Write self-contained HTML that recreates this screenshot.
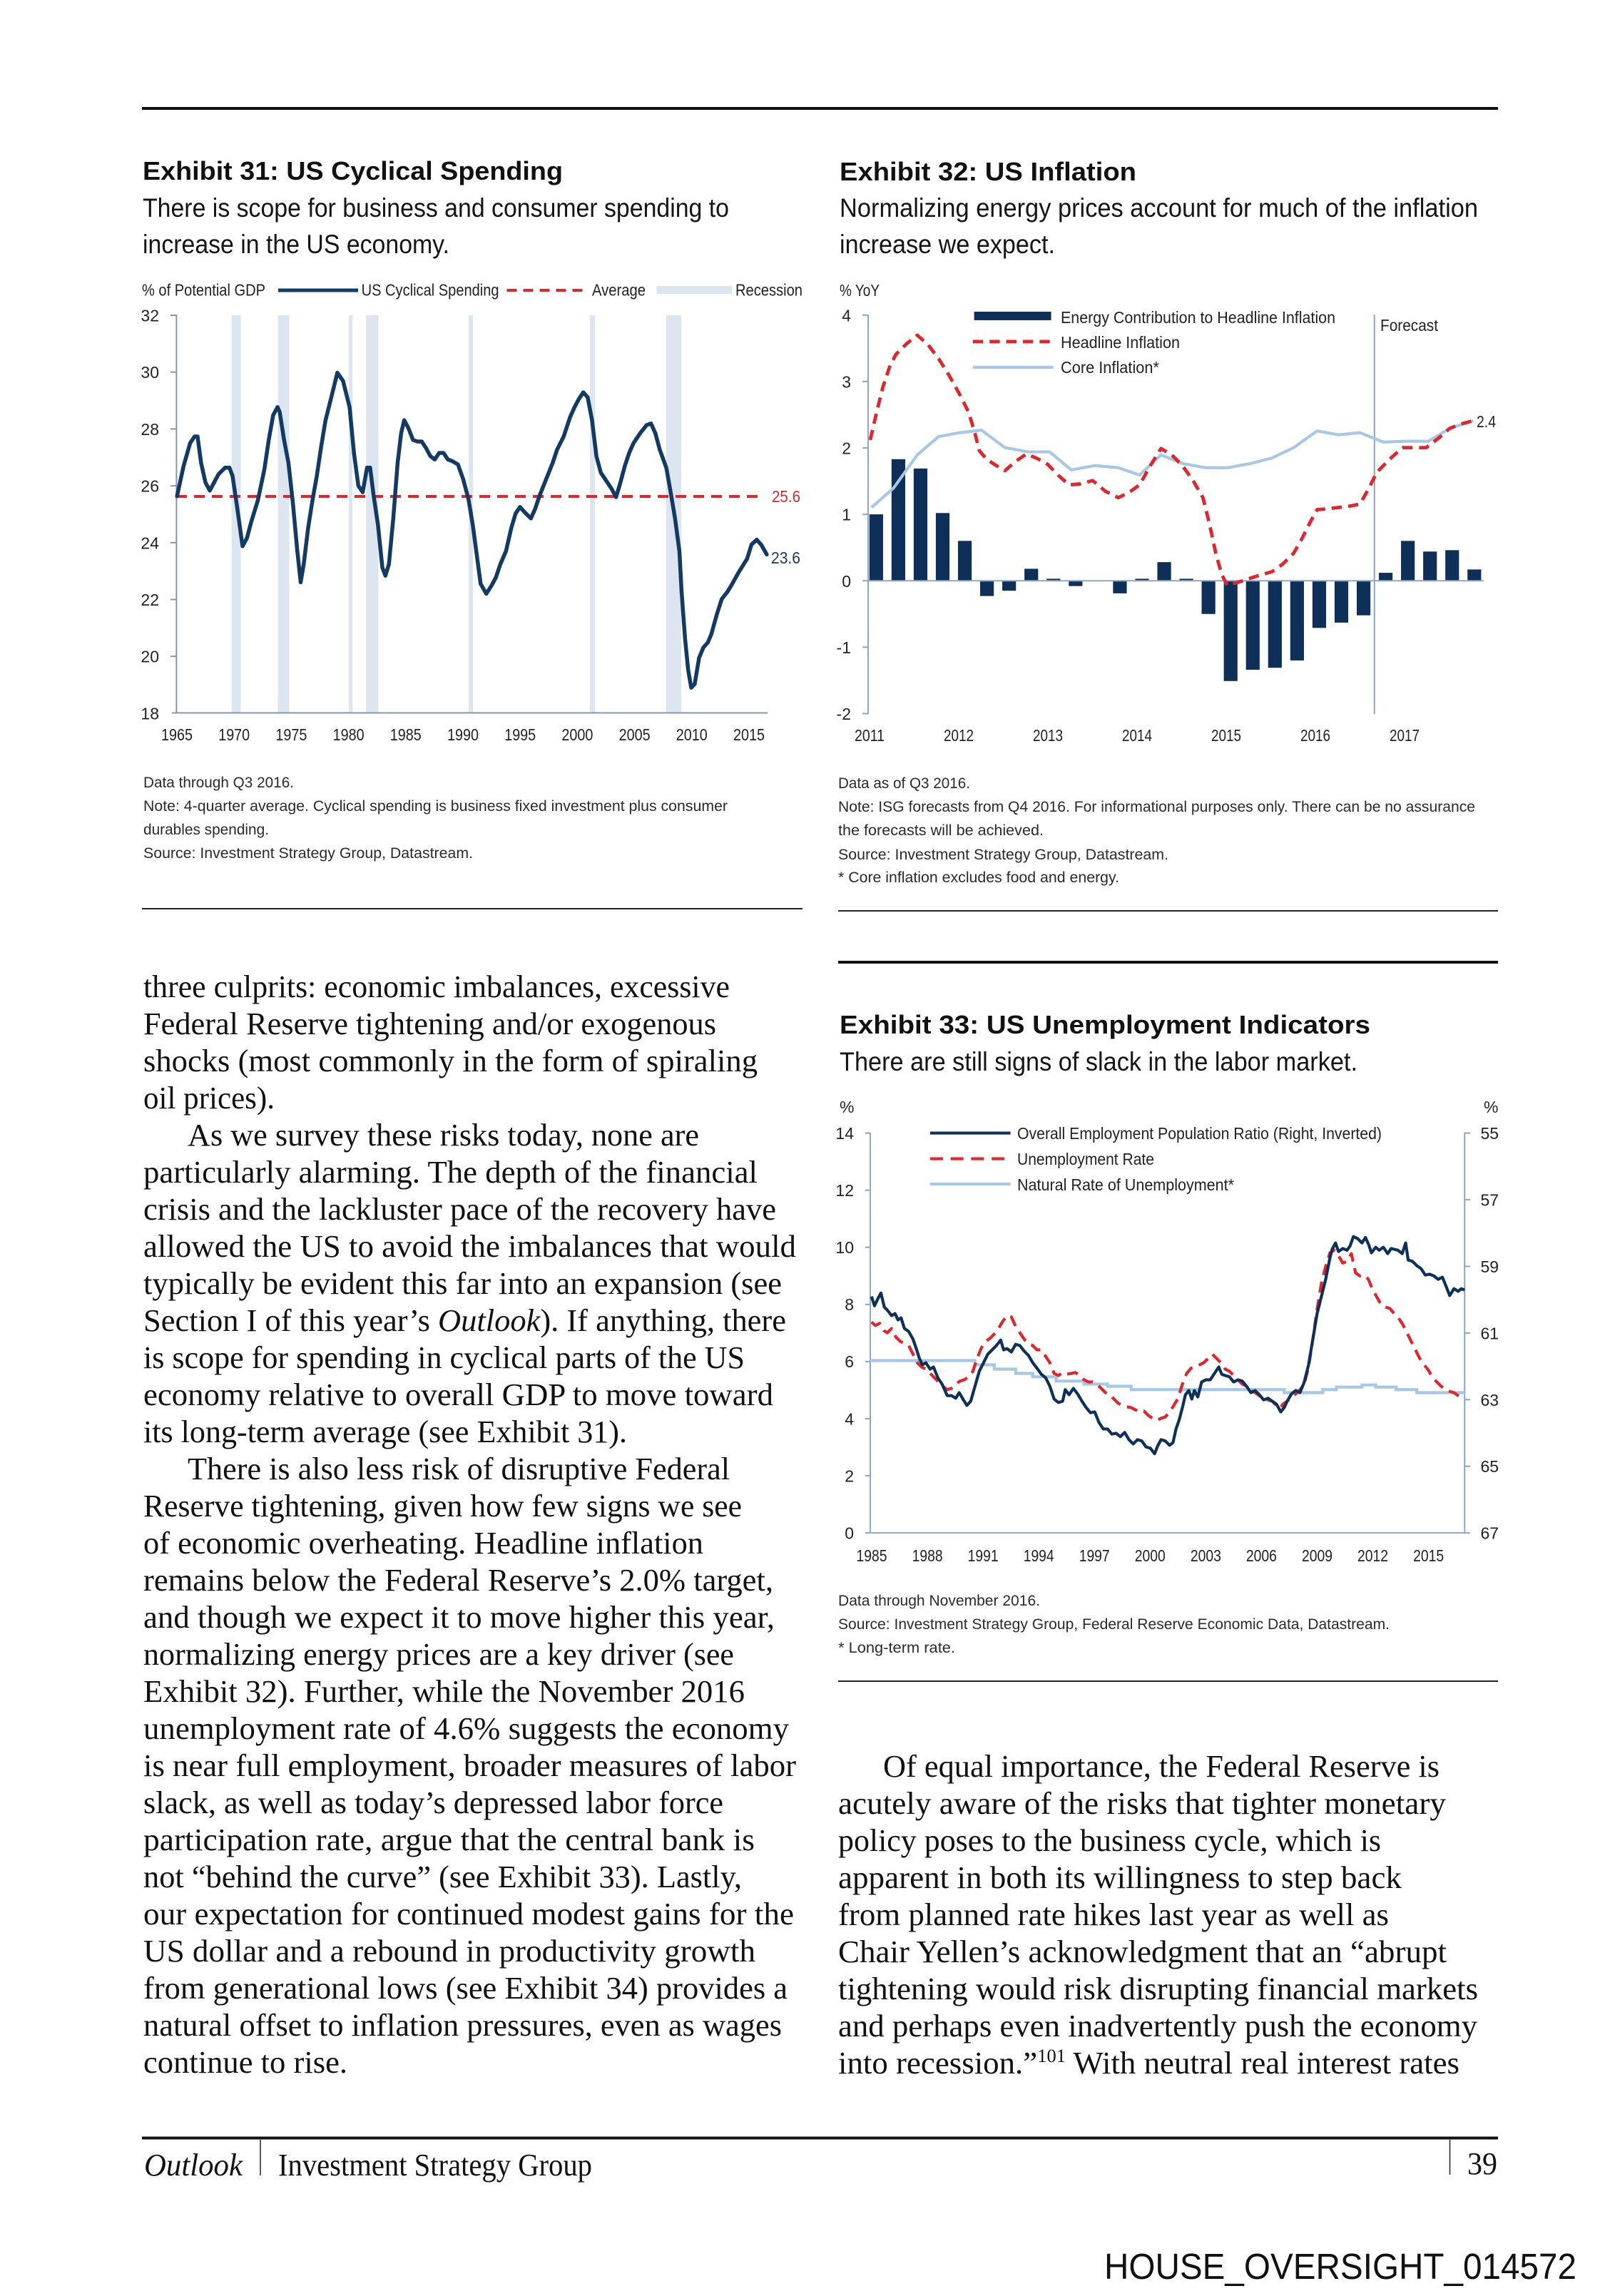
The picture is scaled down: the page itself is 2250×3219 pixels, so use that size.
<!DOCTYPE html>
<html><head><meta charset="utf-8"><style>
html,body{margin:0;padding:0;background:#fff;}
svg{display:block;}
.c{font-family:"Liberation Sans Narrow","Liberation Sans",sans-serif;fill:#222;}
.t{font-family:"Liberation Sans",sans-serif;font-weight:bold;fill:#111;}
.s{font-family:"Liberation Sans Narrow","Liberation Sans",sans-serif;fill:#151515;}
.b{font-family:"Liberation Serif",serif;font-size:44px;fill:#111;}
</style></head><body>
<svg width="2250" height="3219" viewBox="0 0 2250 3219" xmlns="http://www.w3.org/2000/svg">
<rect width="2250" height="3219" fill="#fff"/>
<!-- top rule -->
<rect x="199" y="150" width="1901" height="4" fill="#111"/>

<!-- ===== Exhibit 31 ===== -->
<text class="t" x="200" y="252" font-size="36" textLength="589" lengthAdjust="spacingAndGlyphs">Exhibit 31: US Cyclical Spending</text>
<text class="s" x="200" y="304" font-size="37" textLength="822" lengthAdjust="spacingAndGlyphs">There is scope for business and consumer spending to</text>
<text class="s" x="200" y="355" font-size="37" textLength="430" lengthAdjust="spacingAndGlyphs">increase in the US economy.</text>

<text class="c" x="199" y="414.5" font-size="23" textLength="173" lengthAdjust="spacingAndGlyphs">% of Potential GDP</text>
<line x1="390" y1="407" x2="502" y2="407" stroke="#123a62" stroke-width="5"/>
<text class="c" x="506.6" y="414.5" font-size="23" textLength="193" lengthAdjust="spacingAndGlyphs">US Cyclical Spending</text>
<line x1="710.5" y1="407" x2="824" y2="407" stroke="#e0262d" stroke-width="4" stroke-dasharray="14 9"/>
<text class="c" x="830" y="414.5" font-size="23" textLength="75" lengthAdjust="spacingAndGlyphs">Average</text>
<rect x="920.5" y="401" width="105.5" height="11" fill="#dde6f0"/>
<text class="c" x="1031" y="414.5" font-size="23" textLength="94" lengthAdjust="spacingAndGlyphs">Recession</text>

<!-- recession bands -->
<g fill="#dde6f0">
<rect x="324.7" y="442" width="12.9" height="557"/>
<rect x="389.6" y="442" width="15.9" height="557"/>
<rect x="488.8" y="442" width="5.5" height="557"/>
<rect x="513.3" y="442" width="17.2" height="557"/>
<rect x="657" y="442" width="6" height="557"/>
<rect x="827" y="442" width="7" height="557"/>
<rect x="934" y="442" width="21" height="557"/>
</g>
<!-- axes -->
<g stroke="#8497ad" stroke-width="2">
<line x1="247.4" y1="441" x2="247.4" y2="1000"/>
<line x1="241" y1="999.5" x2="1076" y2="999.5"/>
<line x1="239" y1="442" x2="247" y2="442"/>
<line x1="239" y1="521.7" x2="247" y2="521.7"/>
<line x1="239" y1="601.4" x2="247" y2="601.4"/>
<line x1="239" y1="681.1" x2="247" y2="681.1"/>
<line x1="239" y1="760.8" x2="247" y2="760.8"/>
<line x1="239" y1="840.5" x2="247" y2="840.5"/>
<line x1="239" y1="920.2" x2="247" y2="920.2"/>
</g>
<g class="c" font-size="23" text-anchor="end">
<text x="223" y="450.5">32</text><text x="223" y="530.2">30</text><text x="223" y="609.9">28</text><text x="223" y="689.6">26</text><text x="223" y="769.3">24</text><text x="223" y="849">22</text><text x="223" y="928.7">20</text><text x="223" y="1008.4">18</text>
</g>
<g class="c" font-size="23" text-anchor="middle">
<text x="248" y="1038" textLength="44" lengthAdjust="spacingAndGlyphs">1965</text>
<text x="328.2" y="1038" textLength="44" lengthAdjust="spacingAndGlyphs">1970</text>
<text x="408.4" y="1038" textLength="44" lengthAdjust="spacingAndGlyphs">1975</text>
<text x="488.6" y="1038" textLength="44" lengthAdjust="spacingAndGlyphs">1980</text>
<text x="568.8" y="1038" textLength="44" lengthAdjust="spacingAndGlyphs">1985</text>
<text x="649" y="1038" textLength="44" lengthAdjust="spacingAndGlyphs">1990</text>
<text x="729.2" y="1038" textLength="44" lengthAdjust="spacingAndGlyphs">1995</text>
<text x="809.4" y="1038" textLength="44" lengthAdjust="spacingAndGlyphs">2000</text>
<text x="889.6" y="1038" textLength="44" lengthAdjust="spacingAndGlyphs">2005</text>
<text x="969.8" y="1038" textLength="44" lengthAdjust="spacingAndGlyphs">2010</text>
<text x="1050" y="1038" textLength="44" lengthAdjust="spacingAndGlyphs">2015</text>
</g>
<!-- average -->
<line x1="247" y1="696" x2="1066" y2="696" stroke="#e0262d" stroke-width="4" stroke-dasharray="15 10"/>
<text class="c" x="1082" y="704" font-size="23" style="fill:#d9272e" textLength="40" lengthAdjust="spacingAndGlyphs">25.6</text>
<text class="c" x="1081" y="790" font-size="23" style="fill:#163a60" textLength="41" lengthAdjust="spacingAndGlyphs">23.6</text>
<!-- series -->
<g transform="translate(190,130) scale(0.6124,0.4591)">
<path vector-effect="non-scaling-stroke" fill="none" stroke="#123a62" stroke-width="5.5" stroke-linejoin="round" stroke-linecap="round" d="M95,1232 L110,1140 L125,1070 L135,1050 L142,1050 L150,1130 L160,1190 L170,1215 L180,1190 L190,1165 L205,1145 L215,1145 L222,1170 L232,1260 L245,1385 L255,1360 L265,1310 L280,1245 L295,1150 L305,1060 L315,985 L325,960 L330,975 L340,1060 L350,1130 L360,1250 L370,1395 L378,1495 L385,1440 L395,1330 L405,1245 L415,1170 L425,1080 L435,1000 L450,920 L462,855 L475,880 L490,960 L500,1100 L510,1200 L520,1220 L530,1145 L537,1145 L545,1230 L555,1320 L565,1450 L572,1475 L580,1440 L590,1300 L600,1130 L608,1040 L615,1000 L625,1025 L635,1060 L645,1065 L655,1065 L665,1085 L675,1110 L685,1120 L695,1100 L705,1100 L715,1120 L725,1125 L738,1135 L750,1180 L762,1240 L772,1320 L780,1400 L790,1500 L803,1530 L815,1505 L825,1480 L835,1440 L848,1400 L860,1330 L870,1285 L880,1265 L890,1280 L905,1300 L915,1270 L925,1230 L940,1180 L955,1130 L965,1090 L980,1050 L995,990 L1005,960 L1015,935 L1025,915 L1035,930 L1045,1000 L1055,1110 L1065,1160 L1080,1190 L1090,1210 L1100,1235 L1110,1190 L1120,1140 L1130,1100 L1140,1070 L1155,1040 L1170,1015 L1180,1010 L1190,1040 L1200,1090 L1215,1145 L1225,1220 L1235,1300 L1245,1400 L1250,1524 L1258,1668 L1265,1762 L1272,1817 L1280,1806 L1290,1726 L1300,1694 L1310,1679 L1318,1654 L1330,1596 L1342,1546 L1355,1524 L1365,1502 L1380,1466 L1400,1423 L1410,1380 L1422,1365 L1432,1380 L1445,1410"/>
</g>
<!-- notes 31 -->
<g class="c" font-size="21" style="fill:#2a2a2a">
<text x="201" y="1104" textLength="211" lengthAdjust="spacingAndGlyphs">Data through Q3 2016.</text>
<text x="201" y="1137" textLength="819" lengthAdjust="spacingAndGlyphs">Note: 4-quarter average. Cyclical spending is business fixed investment plus consumer</text>
<text x="201" y="1170" textLength="176" lengthAdjust="spacingAndGlyphs">durables spending.</text>
<text x="201" y="1203" textLength="462" lengthAdjust="spacingAndGlyphs">Source: Investment Strategy Group, Datastream.</text>
</g>
<rect x="199" y="1273" width="926" height="2" fill="#222"/>

<!-- ===== Exhibit 32 ===== -->
<text class="t" x="1177" y="253" font-size="36" textLength="416" lengthAdjust="spacingAndGlyphs">Exhibit 32: US Inflation</text>
<text class="s" x="1177" y="304" font-size="37" textLength="895" lengthAdjust="spacingAndGlyphs">Normalizing energy prices account for much of the inflation</text>
<text class="s" x="1177" y="355" font-size="37" textLength="302" lengthAdjust="spacingAndGlyphs">increase we expect.</text>
<text class="c" x="1177" y="415" font-size="23" textLength="56" lengthAdjust="spacingAndGlyphs">% YoY</text>

<g transform="translate(1160,380) scale(0.5995)">
<g fill="#0e2f58">
<rect x="98" y="569" width="32" height="155.3"/>
<rect x="149.8" y="440" width="32" height="284.3"/>
<rect x="201.6" y="461.8" width="32" height="262.5"/>
<rect x="253.4" y="565.9" width="32" height="158.4"/>
<rect x="305.2" y="631.1" width="32" height="93.2"/>
<rect x="357" y="724.3" width="32" height="35.7"/>
<rect x="408.8" y="724.3" width="32" height="23.3"/>
<rect x="460.6" y="696.3" width="32" height="28"/>
<rect x="512.4" y="719.6" width="32" height="4.7"/>
<rect x="564.2" y="724.3" width="32" height="12.4"/>
<rect x="667.8" y="724.3" width="32" height="29.5"/>
<rect x="719.6" y="719.6" width="32" height="4.7"/>
<rect x="771.4" y="680.8" width="32" height="43.5"/>
<rect x="823.2" y="719.6" width="32" height="4.7"/>
<rect x="875" y="724.3" width="32" height="77.7"/>
<rect x="926.8" y="724.3" width="32" height="234.5"/>
<rect x="978.6" y="724.3" width="32" height="208.1"/>
<rect x="1030.4" y="724.3" width="32" height="203.5"/>
<rect x="1082.2" y="724.3" width="32" height="186.4"/>
<rect x="1134" y="724.3" width="32" height="110.3"/>
<rect x="1185.8" y="724.3" width="32" height="97.9"/>
<rect x="1237.6" y="724.3" width="32" height="80.8"/>
<rect x="1289.4" y="705.7" width="32" height="18.6"/>
<rect x="1341.2" y="631.1" width="32" height="93.2"/>
<rect x="1393" y="656" width="32" height="68.3"/>
<rect x="1444.8" y="652.8" width="32" height="71.5"/>
<rect x="1496.6" y="697.9" width="32" height="26.4"/>
</g>
<g stroke="#8ea7c2" stroke-width="3.4" fill="none">
<line x1="95" y1="102" x2="95" y2="1036"/>
<line x1="95" y1="724.3" x2="1535" y2="724.3"/>
<line x1="1279" y1="102" x2="1279" y2="1036"/>
<line x1="82" y1="103" x2="95" y2="103"/>
<line x1="82" y1="258.3" x2="95" y2="258.3"/>
<line x1="82" y1="413.7" x2="95" y2="413.7"/>
<line x1="82" y1="569" x2="95" y2="569"/>
<line x1="82" y1="724.3" x2="95" y2="724.3"/>
<line x1="82" y1="879.7" x2="95" y2="879.7"/>
<line x1="82" y1="1035" x2="95" y2="1035"/>
</g>
<polyline fill="none" stroke="#a6c8e6" stroke-width="7" stroke-linejoin="round" points="103,553 155,507 210,430 260,387 310,378 360,372 415,413 470,423 520,423 570,465 625,455 680,460 730,477 780,430 830,450 885,460 935,460 990,450 1040,437 1090,413 1145,374 1195,383 1245,378 1300,400 1350,398 1405,398 1455,368 1510,350"/>
<polyline fill="none" stroke="#e0262d" stroke-width="8" stroke-dasharray="24 15" stroke-linejoin="round" points="100,395 115,330 130,270 145,225 160,195 185,170 210,150 235,172 260,205 285,245 310,290 330,330 345,380 355,420 372,440 395,455 415,467 440,445 465,428 490,438 515,452 540,478 565,500 590,498 620,490 650,515 680,530 705,518 730,500 755,455 780,415 805,430 830,455 855,490 878,530 893,590 908,660 922,710 935,735 960,728 990,718 1015,710 1040,703 1065,685 1090,660 1110,625 1130,585 1145,558 1170,556 1195,553 1220,550 1245,545 1265,510 1285,470 1300,455 1320,435 1345,413 1370,413 1400,413 1430,390 1455,368 1480,358 1510,350"/>
<!-- legend -->
<rect x="343" y="95" width="180" height="20" fill="#0e2f58"/>
<line x1="340" y1="165" x2="528" y2="165" stroke="#e0262d" stroke-width="8" stroke-dasharray="24 15"/>
<line x1="340" y1="225" x2="528" y2="225" stroke="#a6c8e6" stroke-width="7"/>
</g>
<g class="c" font-size="23">
<text x="1487" y="453" textLength="385" lengthAdjust="spacingAndGlyphs">Energy Contribution to Headline Inflation</text>
<text x="1487" y="488" textLength="167" lengthAdjust="spacingAndGlyphs">Headline Inflation</text>
<text x="1487" y="523" textLength="138" lengthAdjust="spacingAndGlyphs">Core Inflation*</text>
<text x="1935" y="464" textLength="81" lengthAdjust="spacingAndGlyphs">Forecast</text>
<text x="2070" y="599" textLength="27" lengthAdjust="spacingAndGlyphs">2.4</text>
</g>
<g class="c" font-size="23" text-anchor="end">
<text x="1193" y="450.3">4</text><text x="1193" y="543.4">3</text><text x="1193" y="636.6">2</text><text x="1193" y="729.7">1</text><text x="1193" y="822.8">0</text><text x="1193" y="915.9">-1</text><text x="1193" y="1009">-2</text>
</g>
<g class="c" font-size="23" text-anchor="middle">
<text x="1219" y="1039" textLength="42" lengthAdjust="spacingAndGlyphs">2011</text>
<text x="1344" y="1039" textLength="42" lengthAdjust="spacingAndGlyphs">2012</text>
<text x="1469" y="1039" textLength="42" lengthAdjust="spacingAndGlyphs">2013</text>
<text x="1594" y="1039" textLength="42" lengthAdjust="spacingAndGlyphs">2014</text>
<text x="1719" y="1039" textLength="42" lengthAdjust="spacingAndGlyphs">2015</text>
<text x="1844" y="1039" textLength="42" lengthAdjust="spacingAndGlyphs">2016</text>
<text x="1969" y="1039" textLength="42" lengthAdjust="spacingAndGlyphs">2017</text>
</g>
<g class="c" font-size="21" style="fill:#2a2a2a">
<text x="1175" y="1105" textLength="185" lengthAdjust="spacingAndGlyphs">Data as of Q3 2016.</text>
<text x="1175" y="1138" textLength="893" lengthAdjust="spacingAndGlyphs">Note: ISG forecasts from Q4 2016. For informational purposes only. There can be no assurance</text>
<text x="1175" y="1171" textLength="288" lengthAdjust="spacingAndGlyphs">the forecasts will be achieved.</text>
<text x="1175" y="1205" textLength="463" lengthAdjust="spacingAndGlyphs">Source: Investment Strategy Group, Datastream.</text>
<text x="1175" y="1237" textLength="394" lengthAdjust="spacingAndGlyphs">* Core inflation excludes food and energy.</text>
</g>
<rect x="1175" y="1276" width="925" height="2" fill="#222"/>

<!-- ===== Exhibit 33 ===== -->
<rect x="1175" y="1347" width="925" height="4" fill="#111"/>
<text class="t" x="1177" y="1449" font-size="36" textLength="744" lengthAdjust="spacingAndGlyphs">Exhibit 33: US Unemployment Indicators</text>
<text class="s" x="1177" y="1501" font-size="37" textLength="726" lengthAdjust="spacingAndGlyphs">There are still signs of slack in the labor market.</text>
<text class="c" x="1177" y="1560" font-size="23">%</text>
<text class="c" x="2080" y="1560" font-size="23">%</text>

<g transform="translate(1160,1320) scale(0.5995)">
<g stroke="#8ea7c2" stroke-width="3.4" fill="none">
<line x1="100" y1="447" x2="100" y2="1384"/>
<line x1="1490" y1="447" x2="1490" y2="1384"/>
<line x1="88" y1="1383" x2="1503" y2="1383"/>
<line x1="88" y1="448" x2="100" y2="448"/>
<line x1="88" y1="581.6" x2="100" y2="581.6"/>
<line x1="88" y1="715.1" x2="100" y2="715.1"/>
<line x1="88" y1="848.7" x2="100" y2="848.7"/>
<line x1="88" y1="982.3" x2="100" y2="982.3"/>
<line x1="88" y1="1115.9" x2="100" y2="1115.9"/>
<line x1="88" y1="1249.4" x2="100" y2="1249.4"/>
<line x1="1490" y1="448" x2="1503" y2="448"/>
<line x1="1490" y1="603.8" x2="1503" y2="603.8"/>
<line x1="1490" y1="759.7" x2="1503" y2="759.7"/>
<line x1="1490" y1="915.5" x2="1503" y2="915.5"/>
<line x1="1490" y1="1071.3" x2="1503" y2="1071.3"/>
<line x1="1490" y1="1227.2" x2="1503" y2="1227.2"/>
</g>
<path fill="none" stroke="#a6c8e6" stroke-width="7" d="M100,980 H345 V990 H390 V1000 H440 V1010 H480 V1018 H535 V1028 H600 V1035 H655 V1040 H710 V1048 H1068 V1055 H1158 V1048 H1190 V1042 H1250 V1037 H1282 V1042 H1330 V1048 H1378 V1055 H1490"/>
<polyline fill="none" stroke="#e0262d" stroke-width="7" stroke-dasharray="26 16" stroke-linejoin="round" points="103,890 112,898 122,893 132,910 140,915 150,905 160,925 170,935 180,940 190,945 200,965 210,985 220,995 230,1000 240,1010 250,1020 260,1030 270,1040 280,1048 290,1045 300,1035 310,1028 320,1025 330,1018 340,1005 350,975 360,950 370,935 380,928 390,918 400,905 410,888 420,875 430,878 440,900 450,915 460,930 470,940 480,945 490,955 500,955 510,970 520,985 530,1010 540,1015 550,1008 560,1012 570,1010 580,1008 590,1015 600,1025 610,1030 620,1030 630,1035 640,1045 650,1055 660,1060 670,1070 680,1080 690,1085 700,1088 710,1090 720,1095 730,1100 740,1098 750,1108 760,1115 770,1120 780,1115 790,1112 800,1100 810,1085 820,1068 830,1035 840,1010 850,998 860,995 870,990 880,985 890,975 900,965 910,975 920,985 930,1000 940,1005 950,1015 960,1025 970,1035 980,1040 990,1050 1000,1055 1010,1062 1020,1068 1030,1072 1040,1075 1050,1085 1058,1092 1065,1082 1075,1075 1085,1065 1095,1058 1105,1048 1115,1035 1125,995 1135,930 1145,860 1155,800 1165,760 1175,728 1185,722 1195,735 1205,752 1215,748 1225,730 1235,775 1245,782 1255,780 1265,790 1275,815 1285,832 1295,850 1305,855 1315,858 1325,870 1335,880 1345,895 1355,915 1365,935 1375,955 1385,975 1395,990 1405,1002 1415,1020 1425,1030 1435,1040 1445,1048 1455,1052 1465,1055 1475,1062 1490,1070"/>
<polyline fill="none" stroke="#0f3159" stroke-width="7" stroke-linejoin="round" points="103,830 110,852 118,835 125,822 133,855 140,862 150,875 158,870 165,885 172,880 180,905 190,912 200,930 207,950 215,975 222,990 230,985 240,1000 248,995 258,1020 268,1035 280,1062 290,1062 300,1068 308,1055 318,1072 326,1085 335,1075 345,1040 355,1005 365,985 375,965 385,955 395,945 405,932 412,955 420,952 430,960 440,942 450,945 460,958 470,968 480,985 490,998 500,1012 510,1020 520,1040 530,1070 540,1078 550,1075 556,1048 565,1060 575,1045 585,1058 595,1075 605,1090 615,1102 625,1100 635,1125 645,1140 655,1140 665,1152 675,1150 685,1158 695,1148 705,1165 715,1175 725,1165 735,1168 745,1182 755,1185 765,1198 772,1180 780,1165 790,1168 800,1178 808,1172 815,1140 822,1120 830,1090 837,1060 845,1050 852,1070 858,1050 866,1065 875,1030 885,1025 895,1025 905,1010 915,995 922,1012 930,1015 940,1018 950,1030 960,1025 970,1028 980,1040 990,1055 1000,1050 1010,1060 1020,1072 1030,1068 1040,1075 1050,1082 1060,1100 1068,1090 1075,1075 1085,1058 1095,1050 1105,1055 1115,1030 1125,990 1135,930 1145,870 1155,830 1165,790 1175,740 1180,720 1188,705 1195,725 1205,718 1215,722 1222,712 1230,690 1240,695 1250,705 1258,692 1266,710 1272,728 1282,715 1290,722 1300,715 1310,730 1318,718 1326,720 1334,722 1344,730 1352,705 1358,745 1368,748 1378,758 1388,765 1398,780 1408,778 1418,782 1428,790 1438,785 1448,810 1455,828 1465,812 1475,818 1482,812 1490,815"/>
<line x1="240" y1="448" x2="428" y2="448" stroke="#0f3159" stroke-width="7"/>
<line x1="240" y1="508" x2="428" y2="508" stroke="#e0262d" stroke-width="7" stroke-dasharray="30 18"/>
<line x1="240" y1="567" x2="428" y2="567" stroke="#a6c8e6" stroke-width="7"/>
</g>
<g class="c" font-size="23">
<text x="1426" y="1597" textLength="511" lengthAdjust="spacingAndGlyphs">Overall Employment Population Ratio (Right, Inverted)</text>
<text x="1426" y="1633" textLength="192" lengthAdjust="spacingAndGlyphs">Unemployment Rate</text>
<text x="1426" y="1669" textLength="304" lengthAdjust="spacingAndGlyphs">Natural Rate of Unemployment*</text>
</g>
<g class="c" font-size="23" text-anchor="end">
<text x="1197" y="1597">14</text><text x="1197" y="1677">12</text><text x="1197" y="1757">10</text><text x="1197" y="1837">8</text><text x="1197" y="1917">6</text><text x="1197" y="1997.5">4</text><text x="1197" y="2077.5">2</text><text x="1197" y="2157.5">0</text>
</g>
<g class="c" font-size="23">
<text x="2075.5" y="1597">55</text><text x="2075.5" y="1690.5">57</text><text x="2075.5" y="1784">59</text><text x="2075.5" y="1877.5">61</text><text x="2075.5" y="1971">63</text><text x="2075.5" y="2064">65</text><text x="2075.5" y="2157.5">67</text>
</g>
<g class="c" font-size="23" text-anchor="middle">
<text x="1222" y="2189" textLength="43" lengthAdjust="spacingAndGlyphs">1985</text>
<text x="1300.1" y="2189" textLength="43" lengthAdjust="spacingAndGlyphs">1988</text>
<text x="1378.1" y="2189" textLength="43" lengthAdjust="spacingAndGlyphs">1991</text>
<text x="1456.2" y="2189" textLength="43" lengthAdjust="spacingAndGlyphs">1994</text>
<text x="1534.2" y="2189" textLength="43" lengthAdjust="spacingAndGlyphs">1997</text>
<text x="1612.3" y="2189" textLength="43" lengthAdjust="spacingAndGlyphs">2000</text>
<text x="1690.4" y="2189" textLength="43" lengthAdjust="spacingAndGlyphs">2003</text>
<text x="1768.4" y="2189" textLength="43" lengthAdjust="spacingAndGlyphs">2006</text>
<text x="1846.5" y="2189" textLength="43" lengthAdjust="spacingAndGlyphs">2009</text>
<text x="1924.5" y="2189" textLength="43" lengthAdjust="spacingAndGlyphs">2012</text>
<text x="2002.6" y="2189" textLength="43" lengthAdjust="spacingAndGlyphs">2015</text>
</g>
<g class="c" font-size="21" style="fill:#2a2a2a">
<text x="1175" y="2251" textLength="283" lengthAdjust="spacingAndGlyphs">Data through November 2016.</text>
<text x="1175" y="2284" textLength="773" lengthAdjust="spacingAndGlyphs">Source: Investment Strategy Group, Federal Reserve Economic Data, Datastream.</text>
<text x="1175" y="2317" textLength="164" lengthAdjust="spacingAndGlyphs">* Long-term rate.</text>
</g>
<rect x="1175" y="2356" width="925" height="2" fill="#222"/>

<!-- ===== Left body text ===== -->
<g class="b">
<text x="201" y="1398" textLength="822" lengthAdjust="spacingAndGlyphs">three culprits: economic imbalances, excessive</text>
<text x="201" y="1450" textLength="803" lengthAdjust="spacingAndGlyphs">Federal Reserve tightening and/or exogenous</text>
<text x="201" y="1502" textLength="861" lengthAdjust="spacingAndGlyphs">shocks (most commonly in the form of spiraling</text>
<text x="201" y="1554" textLength="184" lengthAdjust="spacingAndGlyphs">oil prices).</text>
<text x="263" y="1606" textLength="717" lengthAdjust="spacingAndGlyphs">As we survey these risks today, none are</text>
<text x="201" y="1658" textLength="861" lengthAdjust="spacingAndGlyphs">particularly alarming. The depth of the financial</text>
<text x="201" y="1710" textLength="887" lengthAdjust="spacingAndGlyphs">crisis and the lackluster pace of the recovery have</text>
<text x="201" y="1762" textLength="915" lengthAdjust="spacingAndGlyphs">allowed the US to avoid the imbalances that would</text>
<text x="201" y="1814" textLength="895" lengthAdjust="spacingAndGlyphs">typically be evident this far into an expansion (see</text>
<text x="201" y="1866" textLength="901" lengthAdjust="spacingAndGlyphs">Section I of this year’s <tspan font-style="italic">Outlook</tspan>). If anything, there</text>
<text x="201" y="1918" textLength="843" lengthAdjust="spacingAndGlyphs">is scope for spending in cyclical parts of the US</text>
<text x="201" y="1970" textLength="883" lengthAdjust="spacingAndGlyphs">economy relative to overall GDP to move toward</text>
<text x="201" y="2022" textLength="678" lengthAdjust="spacingAndGlyphs">its long-term average (see Exhibit 31).</text>
<text x="263" y="2074" textLength="760" lengthAdjust="spacingAndGlyphs">There is also less risk of disruptive Federal</text>
<text x="201" y="2126" textLength="839" lengthAdjust="spacingAndGlyphs">Reserve tightening, given how few signs we see</text>
<text x="201" y="2178" textLength="785" lengthAdjust="spacingAndGlyphs">of economic overheating. Headline inflation</text>
<text x="201" y="2230" textLength="883" lengthAdjust="spacingAndGlyphs">remains below the Federal Reserve’s 2.0% target,</text>
<text x="201" y="2282" textLength="885" lengthAdjust="spacingAndGlyphs">and though we expect it to move higher this year,</text>
<text x="201" y="2334" textLength="828" lengthAdjust="spacingAndGlyphs">normalizing energy prices are a key driver (see</text>
<text x="201" y="2386" textLength="843" lengthAdjust="spacingAndGlyphs">Exhibit 32). Further, while the November 2016</text>
<text x="201" y="2438" textLength="905" lengthAdjust="spacingAndGlyphs">unemployment rate of 4.6% suggests the economy</text>
<text x="201" y="2490" textLength="915" lengthAdjust="spacingAndGlyphs">is near full employment, broader measures of labor</text>
<text x="201" y="2542" textLength="813" lengthAdjust="spacingAndGlyphs">slack, as well as today’s depressed labor force</text>
<text x="201" y="2594" textLength="857" lengthAdjust="spacingAndGlyphs">participation rate, argue that the central bank is</text>
<text x="201" y="2646" textLength="839" lengthAdjust="spacingAndGlyphs">not “behind the curve” (see Exhibit 33). Lastly,</text>
<text x="201" y="2698" textLength="912" lengthAdjust="spacingAndGlyphs">our expectation for continued modest gains for the</text>
<text x="201" y="2750" textLength="858" lengthAdjust="spacingAndGlyphs">US dollar and a rebound in productivity growth</text>
<text x="201" y="2802" textLength="903" lengthAdjust="spacingAndGlyphs">from generational lows (see Exhibit 34) provides a</text>
<text x="201" y="2854" textLength="895" lengthAdjust="spacingAndGlyphs">natural offset to inflation pressures, even as wages</text>
<text x="201" y="2906" textLength="286" lengthAdjust="spacingAndGlyphs">continue to rise.</text>
</g>

<!-- ===== Right body text ===== -->
<g class="b">
<text x="1238" y="2491" textLength="780" lengthAdjust="spacingAndGlyphs">Of equal importance, the Federal Reserve is</text>
<text x="1175" y="2543" textLength="852" lengthAdjust="spacingAndGlyphs">acutely aware of the risks that tighter monetary</text>
<text x="1175" y="2595" textLength="761" lengthAdjust="spacingAndGlyphs">policy poses to the business cycle, which is</text>
<text x="1175" y="2647" textLength="790" lengthAdjust="spacingAndGlyphs">apparent in both its willingness to step back</text>
<text x="1175" y="2699" textLength="772" lengthAdjust="spacingAndGlyphs">from planned rate hikes last year as well as</text>
<text x="1175" y="2751" textLength="853" lengthAdjust="spacingAndGlyphs">Chair Yellen’s acknowledgment that an “abrupt</text>
<text x="1175" y="2803" textLength="897" lengthAdjust="spacingAndGlyphs">tightening would risk disrupting financial markets</text>
<text x="1175" y="2855" textLength="896" lengthAdjust="spacingAndGlyphs">and perhaps even inadvertently push the economy</text>
<text x="1175" y="2907" textLength="871" lengthAdjust="spacingAndGlyphs">into recession.”<tspan font-size="26" dy="-16">101</tspan><tspan dy="16"> With neutral real interest rates</tspan></text>
</g>

<!-- ===== Footer ===== -->
<rect x="199" y="2995.5" width="1901" height="4" fill="#111"/>
<line x1="365" y1="3000" x2="365" y2="3050" stroke="#222" stroke-width="1.5"/>
<line x1="2032.5" y1="3000" x2="2032.5" y2="3049" stroke="#222" stroke-width="1.5"/>
<text class="b" x="202" y="3050" font-style="italic" textLength="138" lengthAdjust="spacingAndGlyphs">Outlook</text>
<text class="b" x="390" y="3050" textLength="440" lengthAdjust="spacingAndGlyphs">Investment Strategy Group</text>
<text class="b" x="2057" y="3048" textLength="42" lengthAdjust="spacingAndGlyphs">39</text>

<text x="1548" y="3195" font-family="Liberation Sans, sans-serif" font-size="51" fill="#111" textLength="662" lengthAdjust="spacingAndGlyphs">HOUSE_OVERSIGHT_014572</text>
</svg>
</body></html>
